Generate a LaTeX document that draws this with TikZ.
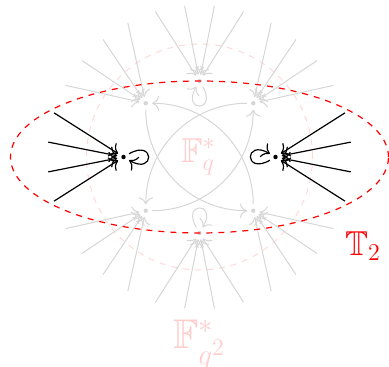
\documentclass[tikz,border=0pt]{standalone}
\usepackage{amssymb}
\usetikzlibrary{arrows.meta}
\begin{document}
\begin{tikzpicture}[x=0.5pt,y=0.5pt,
  >={To[scale=1.3]},
  dot/.style={circle,minimum size=6pt,inner sep=0pt},
  grayline/.style={draw=black!16,line width=0.5pt,->},
  blackline/.style={draw=black,line width=0.6pt,->},
  myloop/.style={looseness=8,min distance=15pt},
  lbl/.style={text=red!20}
  ]
\useasboundingbox (-199.5,-210) rectangle (189.5,157);
\draw[red!15,dashed,line width=0.5pt] (0,0) circle (113);
\foreach \t in {0,45,90,135,180,225,270,315} {
  \node[dot] (d\t) at (\t:76) {};
  \foreach [count=\k] \o in {-16.875,-5.625,5.625,16.875}
    \coordinate (s\t-\k) at (\t+\o:152);
}
\node[lbl,font=\LARGE] (lq) at (-1,0) {$\mathbb{F}_q^*$};
\node[lbl,font=\huge] (lq2) at (0,-188) {$\mathbb{F}_{q^2}^*$};
\foreach \t in {45,90,135,225,270,315} {
  \foreach \k in {1,2,3,4}
    \draw[grayline] (s\t-\k) -- (d\t);
  \fill[black!16] (d\t) circle (2.2);
}
\draw[grayline] (d90) to[out=-60,in=-120,myloop] (d90);
\draw[grayline] (d270) to[out=120,in=60,myloop] (d270);
\draw[grayline] (d45) to[bend right=45] (d225);
\draw[grayline] (d225) to[bend right=45] (d45);
\draw[grayline] (d135) to[bend right=45] (d315);
\draw[grayline] (d315) to[bend right=45] (d135);
\draw[red,dashed,line width=0.6pt] (0,0) ellipse [x radius=189,y radius=76];
\foreach \t in {0,180} {
  \foreach \k in {1,2,3,4}
    \draw[blackline] (s\t-\k) -- (d\t);
  \fill (d\t) circle (2.2);
}
\draw[blackline] (d180) to[out=30,in=-30,myloop] (d180);
\draw[blackline] (d0) to[out=210,in=150,myloop] (d0);
\node[text=red,font=\LARGE] (t2) at (163.5,-89) {$\mathbb{T}_2$};
\end{tikzpicture}
\end{document}
